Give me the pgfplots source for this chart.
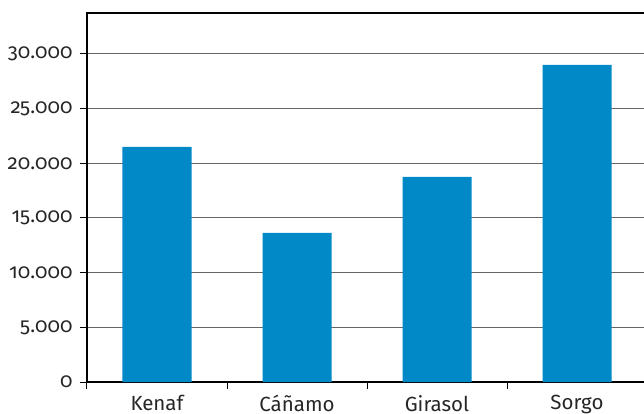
\documentclass[border=0pt]{standalone}
\usepackage{fontspec}
\setmainfont[Numbers=OldStyle]{Fira Sans}
\usepackage{pgfplots}
\pgfplotsset{compat=1.18}
\definecolor{barblue}{RGB}{0,136,199}
\begin{document}
\begin{tikzpicture}
\useasboundingbox (-87pt,-32pt) rectangle (557pt,382pt);
\begin{axis}[
  at={(0,0)}, anchor=south west,
  scale only axis, width=560pt, height=369pt,
  xmin=-0.5, xmax=3.5, ymin=0, ymax=33750,
  axis line style={black, line width=1.5pt},
  xtick={0,1,2,3},
  xticklabels={Kenaf,Cáñamo,Girasol,Sorgo},
  x tick label style={yshift=-3pt},
  xtick pos=bottom, ytick pos=left,
  xtick style={draw=none},
  extra x ticks={-0.5,0.5,1.5,2.5},
  extra x tick labels={},
  extra x tick style={xtick style={draw=black, line width=1pt}, major tick length=7pt, tick align=outside, grid=none},
  ytick={0,5000,10000,15000,20000,25000,30000},
  scaled y ticks=false,
  ytick style={draw=black, line width=1pt},
  tick align=outside, major tick length=7pt,
  y tick label style={xshift=-4pt},
  ymajorgrids,
  major grid style={line width=1pt, color=black!60},
  /pgf/number format/.cd, 1000 sep={.}, assume math mode=true,
  /pgfplots/.cd,
  tick label style={font=\fontsize{20.5}{24}\selectfont, text=black!85},
]
\addplot[ybar, bar width=69pt, fill=barblue, draw=none]
  coordinates {(0,21500) (1,13650) (2,18750) (3,29000)};
\end{axis}
\end{tikzpicture}
\end{document}
